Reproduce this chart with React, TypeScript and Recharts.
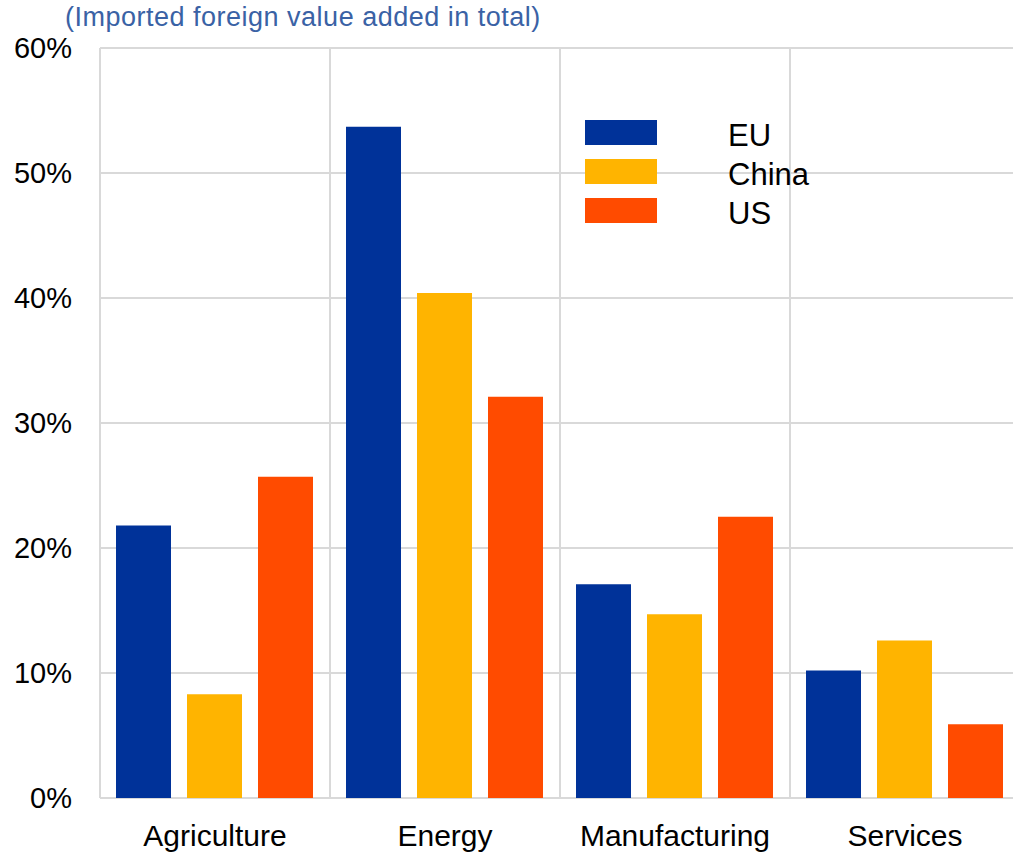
import React from "react";
import { BarChart, Bar, XAxis, YAxis, CartesianGrid } from "recharts";

// Share of imported foreign value added in total, by sector (%)
const sectors = ["Agriculture", "Energy", "Manufacturing", "Services"];
const euValues = [21.8, 53.7, 17.1, 10.2];
const chinaValues = [8.3, 40.4, 14.7, 12.6];
const usValues = [25.7, 32.1, 22.5, 5.9];
const yTicks = [0, 10, 20, 30, 40, 50, 60];

const seriesList = [
  { key: "EU", name: "EU", color: "#003299" },
  { key: "China", name: "China", color: "#FFB400" },
  { key: "US", name: "US", color: "#FF4B00" },
];

const data = sectors.map((sector, i) => ({
  sector,
  EU: euValues[i],
  China: chinaValues[i],
  US: usValues[i],
}));

const FONT = '"Liberation Sans", Arial, Helvetica, sans-serif';
const GRID = "#D9D9D9";

function LegendBox() {
  return (
    <div
      style={{
        position: "absolute",
        left: 585,
        top: 113,
        width: 260,
        fontFamily: FONT,
        zIndex: 2,
      }}
    >
      {seriesList.map((s) => (
        <div
          key={s.key}
          style={{ display: "flex", alignItems: "center", height: 39 }}
        >
          <div style={{ width: 72, height: 25, background: s.color }} />
          <div
            style={{
              marginLeft: 71,
              fontSize: 31,
              color: "#000",
              lineHeight: "31px",
              position: "relative",
              top: 3,
            }}
          >
            {s.name}
          </div>
        </div>
      ))}
    </div>
  );
}

export default function App() {
  return (
    <div
      style={{
        position: "absolute",
        left: 0,
        top: 0,
        width: 1013,
        height: 853,
        overflow: "hidden",
        background: "#fff",
        fontFamily: FONT,
      }}
    >
      <div
        style={{
          position: "absolute",
          left: 65,
          top: 4,
          fontSize: 27,
          lineHeight: "27px",
          letterSpacing: 0.5,
          color: "#3A62A5",
          whiteSpace: "nowrap",
          zIndex: 2,
        }}
      >
        (Imported foreign value added in total)
      </div>
      <BarChart
        width={1020}
        height={853}
        data={data}
        margin={{ top: 48, right: 0, bottom: 0, left: 0 }}
        barCategoryGap={16}
        barGap={16}
      >
        <CartesianGrid
          stroke={GRID}
          strokeWidth={2}
          verticalCoordinatesGenerator={({ offset }: any) =>
            sectors
              .map((_, i) => offset.left + (i * offset.width) / sectors.length)
              .concat([offset.left + offset.width])
          }
        />
        <XAxis
          dataKey="sector"
          height={55}
          axisLine={false}
          tickLine={false}
          tickSize={0}
          tickMargin={27}
          interval={0}
          tick={{ fontSize: 30, fill: "#000", fontFamily: FONT }}
        />
        <YAxis
          width={100}
          domain={[0, 60]}
          ticks={yTicks}
          interval={0}
          axisLine={false}
          tickLine={false}
          tickSize={0}
          tickMargin={28}
          tickFormatter={(v: number) => `${v}%`}
          tick={{ fontSize: 29, fill: "#000", fontFamily: FONT }}
        />
        {seriesList.map((s) => (
          <Bar
            key={s.key}
            dataKey={s.key}
            name={s.name}
            fill={s.color}
            isAnimationActive={false}
          />
        ))}
      </BarChart>
      <LegendBox />
    </div>
  );
}
